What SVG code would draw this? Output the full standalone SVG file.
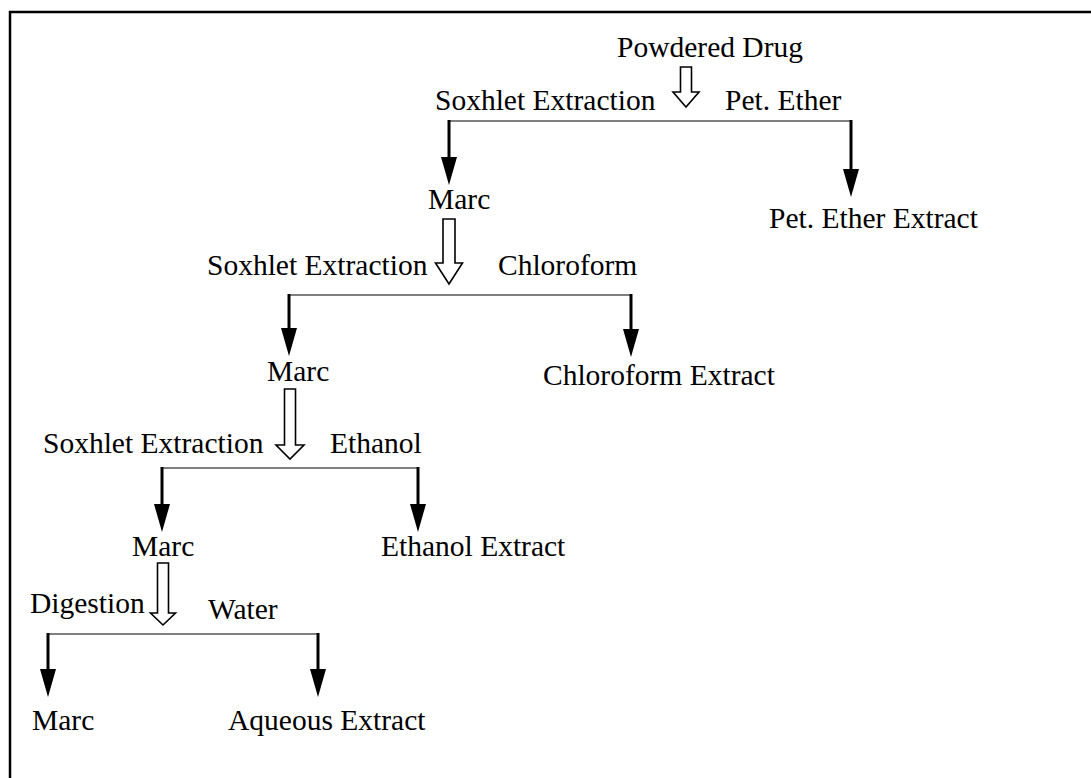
<svg xmlns="http://www.w3.org/2000/svg" width="1091" height="778" viewBox="0 0 1091 778">
  <style>
    text { font-family: "Liberation Serif", "Times New Roman", serif; font-size: 29.5px; fill: #000; }
    .bar { stroke: #555; stroke-width: 1.6; fill: none; }
    .drop { stroke: #000; stroke-width: 3; fill: none; marker-end: url(#head); }
    .hollow { fill: #fff; stroke: #000; stroke-width: 1.6; stroke-linejoin: miter; }
    .frame { stroke: #000; stroke-width: 2.5; fill: none; }
  </style>
  <defs>
    <marker id="head" markerUnits="userSpaceOnUse" markerWidth="30" markerHeight="18" refX="0" refY="0" orient="auto" overflow="visible">
      <path d="M-4,-8 L24,0 L-4,8 Z" fill="#000"/>
    </marker>
  </defs>
  <rect width="1091" height="778" fill="#fff"/>
  <path class="frame" d="M10,778 L10,12 L1091,12"/>

  <g id="connectors">
    <polygon class="hollow" points="680.5,67 691.5,67 691.5,92 699,92 686,107 673,92 680.5,92"/>
    <line class="bar" x1="449" y1="121" x2="851" y2="121"/>
    <line class="drop" x1="449" y1="120" x2="449" y2="161"/>
    <line class="drop" x1="851" y1="120" x2="851" y2="173"/>

    <polygon class="hollow" points="443,219 455,219 455,263 462.5,263 449,284 435.5,263 443,263"/>
    <line class="bar" x1="289" y1="295" x2="631" y2="295"/>
    <line class="drop" x1="289" y1="294" x2="289" y2="332"/>
    <line class="drop" x1="631" y1="294" x2="631" y2="333"/>

    <polygon class="hollow" points="284.5,389 295.5,389 295.5,445 304,445 290,459 276,445 284.5,445"/>
    <line class="bar" x1="162" y1="468" x2="418" y2="468"/>
    <line class="drop" x1="162" y1="467" x2="162" y2="508"/>
    <line class="drop" x1="418" y1="467" x2="418" y2="508"/>

    <polygon class="hollow" points="157.5,563 168.5,563 168.5,613 175.5,613 163,625 150.5,613 157.5,613"/>
    <line class="bar" x1="48" y1="634" x2="318" y2="634"/>
    <line class="drop" x1="48" y1="633" x2="48" y2="673"/>
    <line class="drop" x1="318" y1="633" x2="318" y2="673"/>
  </g>

  <g id="powdered-drug"><text x="617" y="57">Powdered Drug</text></g>
  <g id="step1-method"><text x="435" y="110">Soxhlet Extraction</text></g>
  <g id="step1-solvent"><text x="725" y="110">Pet. Ether</text></g>
  <g id="marc1"><text x="428" y="209">Marc</text></g>
  <g id="pet-ether-extract"><text x="769" y="228">Pet. Ether Extract</text></g>

  <g id="step2-method"><text x="207" y="275">Soxhlet Extraction</text></g>
  <g id="step2-solvent"><text x="498" y="275">Chloroform</text></g>
  <g id="marc2"><text x="267" y="381">Marc</text></g>
  <g id="chloroform-extract"><text x="543" y="385">Chloroform Extract</text></g>

  <g id="step3-method"><text x="43" y="453">Soxhlet Extraction</text></g>
  <g id="step3-solvent"><text x="330" y="453">Ethanol</text></g>
  <g id="marc3"><text x="132" y="556">Marc</text></g>
  <g id="ethanol-extract"><text x="381" y="556">Ethanol Extract</text></g>

  <g id="step4-method"><text x="30" y="613">Digestion</text></g>
  <g id="step4-solvent"><text x="208" y="619">Water</text></g>
  <g id="marc4"><text x="32" y="730">Marc</text></g>
  <g id="aqueous-extract"><text x="228" y="730">Aqueous Extract</text></g>
</svg>
